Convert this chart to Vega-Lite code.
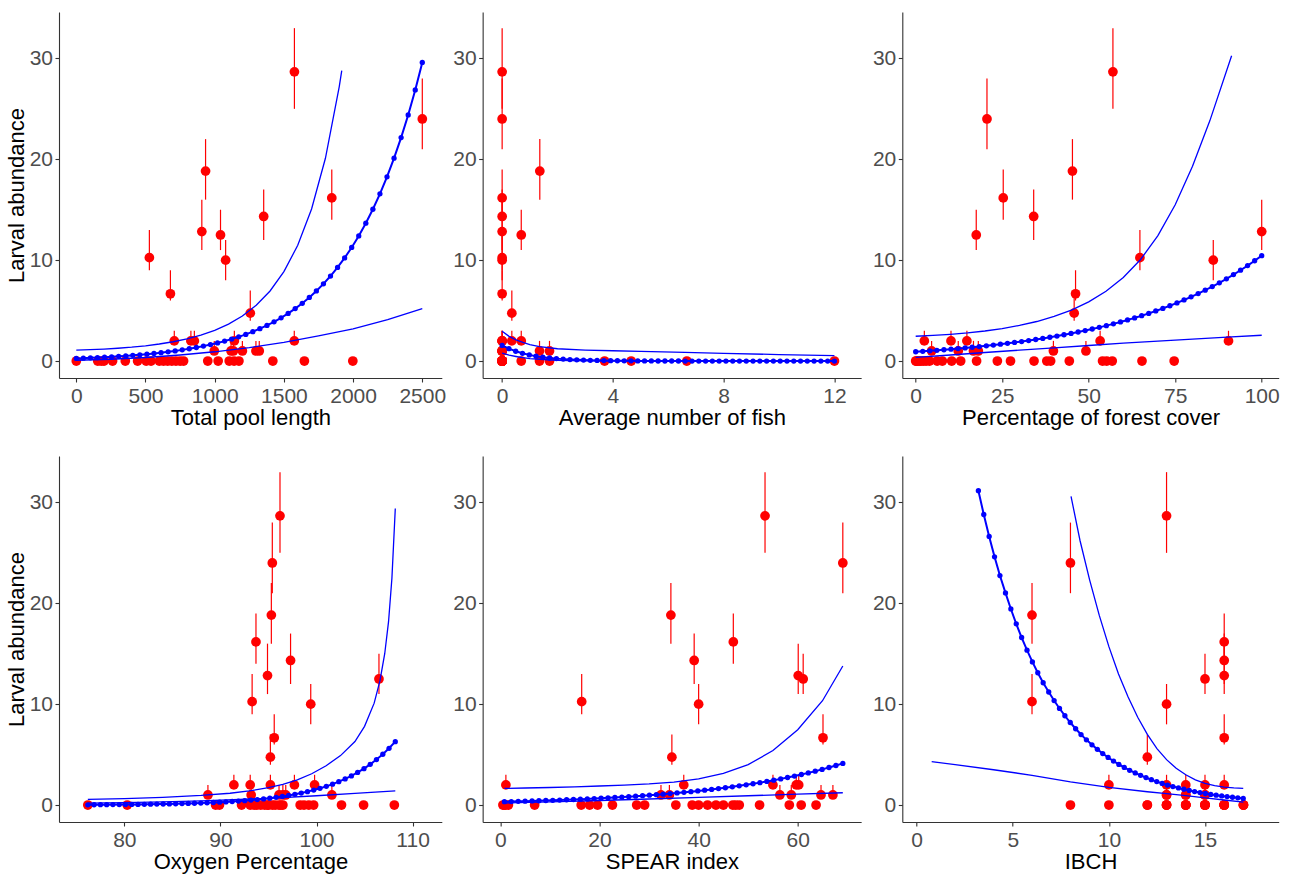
{
"$schema": "https://vega.github.io/schema/vega-lite/v6.json",
"padding": {"left": 5, "top": 12, "right": 5, "bottom": 5},
"bounds": "flush",
"columns": 3,
"spacing": {"row": 78, "column": 40.65},
"config": {
  "view": {"stroke": null},
  "font": "Liberation Sans",
  "axis": {"domainColor": "#333333", "domainWidth": 1.1, "tickColor": "#333333", "tickSize": 4, "tickWidth": 1.1,
    "labelFont": "Liberation Sans", "labelFontSize": 21, "labelColor": "#4D4D4D", "labelFlush": false, "labelOverlap": false,
    "titleFont": "Liberation Sans", "titleFontSize": 22, "titleFontWeight": "normal", "titleColor": "#000000", "grid": false},
  "axisX": {"labelPadding": 3, "titlePadding": 1},
  "axisY": {"labelPadding": 2.5, "titlePadding": 1}
},
"datasets": {
"pts": [
{"p":1,"x":1576,"y":28.67,"lo":25,"hi":33},{"p":1,"x":2500,"y":24,"lo":21,"hi":28},{"p":1,"x":934,"y":18.83,"lo":16,"hi":22},{"p":1,"x":1846,"y":16.17,"lo":14,"hi":19},{"p":1,"x":1354,"y":14.33,"lo":12,"hi":17},{"p":1,"x":907,"y":12.83,"lo":11,"hi":16},{"p":1,"x":1042,"y":12.5,"lo":11,"hi":15},{"p":1,"x":528,"y":10.25,"lo":9,"hi":13},{"p":1,"x":1079,"y":10,"lo":8,"hi":12},{"p":1,"x":680,"y":6.67,"lo":6,"hi":9},{"p":1,"x":1257,"y":4.75,"lo":4,"hi":7},
{"p":1,"x":708,"y":2,"lo":2,"hi":3},{"p":1,"x":828,"y":2,"lo":2,"hi":3},{"p":1,"x":853,"y":2,"lo":2,"hi":3},{"p":1,"x":1142,"y":2,"lo":2,"hi":3},{"p":1,"x":1575,"y":2,"lo":2,"hi":3},
{"p":1,"x":997,"y":1,"lo":1,"hi":2},{"p":1,"x":1118,"y":1,"lo":1,"hi":2},{"p":1,"x":1135,"y":1,"lo":1,"hi":2},{"p":1,"x":1200,"y":1,"lo":1,"hi":2},{"p":1,"x":1298,"y":1,"lo":1,"hi":2},{"p":1,"x":1322,"y":1,"lo":1,"hi":2},
{"p":1,"x":0,"y":0,"lo":0,"hi":0},{"p":1,"x":155,"y":0,"lo":0,"hi":0},{"p":1,"x":180,"y":0,"lo":0,"hi":0},{"p":1,"x":200,"y":0,"lo":0,"hi":0},{"p":1,"x":262,"y":0,"lo":0,"hi":0},{"p":1,"x":354,"y":0,"lo":0,"hi":0},{"p":1,"x":443,"y":0,"lo":0,"hi":0},{"p":1,"x":505,"y":0,"lo":0,"hi":0},{"p":1,"x":540,"y":0,"lo":0,"hi":0},{"p":1,"x":600,"y":0,"lo":0,"hi":0},{"p":1,"x":630,"y":0,"lo":0,"hi":0},{"p":1,"x":660,"y":0,"lo":0,"hi":0},{"p":1,"x":690,"y":0,"lo":0,"hi":0},{"p":1,"x":720,"y":0,"lo":0,"hi":0},{"p":1,"x":750,"y":0,"lo":0,"hi":0},{"p":1,"x":775,"y":0,"lo":0,"hi":0},{"p":1,"x":950,"y":0,"lo":0,"hi":0},{"p":1,"x":1025,"y":0,"lo":0,"hi":0},{"p":1,"x":1105,"y":0,"lo":0,"hi":0},{"p":1,"x":1140,"y":0,"lo":0,"hi":0},{"p":1,"x":1175,"y":0,"lo":0,"hi":0},{"p":1,"x":1420,"y":0,"lo":0,"hi":0},{"p":1,"x":1648,"y":0,"lo":0,"hi":0},{"p":1,"x":1998,"y":0,"lo":0,"hi":0},

{"p":2,"x":0,"y":28.67,"lo":25,"hi":33},{"p":2,"x":0,"y":24,"lo":21,"hi":28},{"p":2,"x":1.36,"y":18.83,"lo":16,"hi":22},{"p":2,"x":0,"y":16.17,"lo":14,"hi":19},{"p":2,"x":0,"y":14.33,"lo":12,"hi":17},{"p":2,"x":0,"y":12.83,"lo":11,"hi":16},{"p":2,"x":0.69,"y":12.5,"lo":11,"hi":15},{"p":2,"x":0,"y":10.25,"lo":9,"hi":13},{"p":2,"x":0,"y":10,"lo":8,"hi":12},{"p":2,"x":0,"y":6.67,"lo":6,"hi":9},{"p":2,"x":0.35,"y":4.75,"lo":4,"hi":7},
{"p":2,"x":0,"y":2,"lo":2,"hi":3},{"p":2,"x":0.35,"y":2,"lo":2,"hi":3},{"p":2,"x":0.69,"y":2,"lo":2,"hi":3},{"p":2,"x":0,"y":2,"lo":2,"hi":3},{"p":2,"x":0,"y":2,"lo":2,"hi":3},
{"p":2,"x":0,"y":1,"lo":1,"hi":2},{"p":2,"x":1.35,"y":1,"lo":1,"hi":2},{"p":2,"x":1.71,"y":1,"lo":1,"hi":2},{"p":2,"x":0,"y":1,"lo":1,"hi":2},{"p":2,"x":0,"y":1,"lo":1,"hi":2},{"p":2,"x":0,"y":1,"lo":1,"hi":2},
{"p":2,"x":0,"y":0,"lo":0,"hi":0},{"p":2,"x":0,"y":0,"lo":0,"hi":0},{"p":2,"x":0,"y":0,"lo":0,"hi":0},{"p":2,"x":0,"y":0,"lo":0,"hi":0},{"p":2,"x":0,"y":0,"lo":0,"hi":0},{"p":2,"x":0,"y":0,"lo":0,"hi":0},{"p":2,"x":0,"y":0,"lo":0,"hi":0},{"p":2,"x":0,"y":0,"lo":0,"hi":0},{"p":2,"x":0,"y":0,"lo":0,"hi":0},{"p":2,"x":0,"y":0,"lo":0,"hi":0},{"p":2,"x":0,"y":0,"lo":0,"hi":0},{"p":2,"x":0,"y":0,"lo":0,"hi":0},{"p":2,"x":0,"y":0,"lo":0,"hi":0},{"p":2,"x":0,"y":0,"lo":0,"hi":0},{"p":2,"x":0,"y":0,"lo":0,"hi":0},{"p":2,"x":0,"y":0,"lo":0,"hi":0},{"p":2,"x":0,"y":0,"lo":0,"hi":0},{"p":2,"x":0.69,"y":0,"lo":0,"hi":0},{"p":2,"x":1.35,"y":0,"lo":0,"hi":0},{"p":2,"x":1.71,"y":0,"lo":0,"hi":0},{"p":2,"x":3.7,"y":0,"lo":0,"hi":0},{"p":2,"x":4.66,"y":0,"lo":0,"hi":0},{"p":2,"x":6.67,"y":0,"lo":0,"hi":0},{"p":2,"x":12,"y":0,"lo":0,"hi":0},

{"p":3,"x":57.0,"y":28.67,"lo":25,"hi":33},{"p":3,"x":20.6,"y":24,"lo":21,"hi":28},{"p":3,"x":45.3,"y":18.83,"lo":16,"hi":22},{"p":3,"x":25.3,"y":16.17,"lo":14,"hi":19},{"p":3,"x":34.1,"y":14.33,"lo":12,"hi":17},{"p":3,"x":100,"y":12.83,"lo":11,"hi":16},{"p":3,"x":17.5,"y":12.5,"lo":11,"hi":15},{"p":3,"x":64.8,"y":10.25,"lo":9,"hi":13},{"p":3,"x":86.0,"y":10,"lo":8,"hi":12},{"p":3,"x":46.2,"y":6.67,"lo":6,"hi":9},{"p":3,"x":45.8,"y":4.75,"lo":4,"hi":7},
{"p":3,"x":2.5,"y":2,"lo":2,"hi":3},{"p":3,"x":10.2,"y":2,"lo":2,"hi":3},{"p":3,"x":14.8,"y":2,"lo":2,"hi":3},{"p":3,"x":53.3,"y":2,"lo":2,"hi":3},{"p":3,"x":90.4,"y":2,"lo":2,"hi":3},
{"p":3,"x":4.6,"y":1,"lo":1,"hi":2},{"p":3,"x":12.3,"y":1,"lo":1,"hi":2},{"p":3,"x":16.7,"y":1,"lo":1,"hi":2},{"p":3,"x":18.1,"y":1,"lo":1,"hi":2},{"p":3,"x":39.8,"y":1,"lo":1,"hi":2},{"p":3,"x":49.2,"y":1,"lo":1,"hi":2},
{"p":3,"x":0,"y":0,"lo":0,"hi":0},{"p":3,"x":0.5,"y":0,"lo":0,"hi":0},{"p":3,"x":1,"y":0,"lo":0,"hi":0},{"p":3,"x":1.5,"y":0,"lo":0,"hi":0},{"p":3,"x":2.2,"y":0,"lo":0,"hi":0},{"p":3,"x":3,"y":0,"lo":0,"hi":0},{"p":3,"x":4,"y":0,"lo":0,"hi":0},{"p":3,"x":6.2,"y":0,"lo":0,"hi":0},{"p":3,"x":7.7,"y":0,"lo":0,"hi":0},{"p":3,"x":10.4,"y":0,"lo":0,"hi":0},{"p":3,"x":13,"y":0,"lo":0,"hi":0},{"p":3,"x":17.6,"y":0,"lo":0,"hi":0},{"p":3,"x":23.6,"y":0,"lo":0,"hi":0},{"p":3,"x":27.4,"y":0,"lo":0,"hi":0},{"p":3,"x":34.2,"y":0,"lo":0,"hi":0},{"p":3,"x":37.9,"y":0,"lo":0,"hi":0},{"p":3,"x":39,"y":0,"lo":0,"hi":0},{"p":3,"x":44.4,"y":0,"lo":0,"hi":0},{"p":3,"x":54,"y":0,"lo":0,"hi":0},{"p":3,"x":55.2,"y":0,"lo":0,"hi":0},{"p":3,"x":56.8,"y":0,"lo":0,"hi":0},{"p":3,"x":65.4,"y":0,"lo":0,"hi":0},{"p":3,"x":74.7,"y":0,"lo":0,"hi":0},{"p":3,"x":0.2,"y":0,"lo":0,"hi":0},

{"p":4,"x":96.2,"y":28.67,"lo":25,"hi":33},{"p":4,"x":95.4,"y":24,"lo":21,"hi":28},{"p":4,"x":95.3,"y":18.83,"lo":16,"hi":22},{"p":4,"x":93.7,"y":16.17,"lo":14,"hi":19},{"p":4,"x":97.3,"y":14.33,"lo":12,"hi":17},{"p":4,"x":94.9,"y":12.83,"lo":11,"hi":16},{"p":4,"x":106.5,"y":12.5,"lo":11,"hi":15},{"p":4,"x":93.3,"y":10.25,"lo":9,"hi":13},{"p":4,"x":99.4,"y":10,"lo":8,"hi":12},{"p":4,"x":95.6,"y":6.67,"lo":6,"hi":9},{"p":4,"x":95.2,"y":4.75,"lo":4,"hi":7},
{"p":4,"x":91.4,"y":2,"lo":2,"hi":3},{"p":4,"x":93.1,"y":2,"lo":2,"hi":3},{"p":4,"x":95.2,"y":2,"lo":2,"hi":3},{"p":4,"x":97.7,"y":2,"lo":2,"hi":3},{"p":4,"x":99.8,"y":2,"lo":2,"hi":3},
{"p":4,"x":88.7,"y":1,"lo":1,"hi":2},{"p":4,"x":93.2,"y":1,"lo":1,"hi":2},{"p":4,"x":96.1,"y":1,"lo":1,"hi":2},{"p":4,"x":96.8,"y":1,"lo":1,"hi":2},{"p":4,"x":101.6,"y":1,"lo":1,"hi":2},{"p":4,"x":96.5,"y":1,"lo":1,"hi":2},
{"p":4,"x":76.2,"y":0,"lo":0,"hi":0},{"p":4,"x":80.3,"y":0,"lo":0,"hi":0},{"p":4,"x":89.5,"y":0,"lo":0,"hi":0},{"p":4,"x":89.9,"y":0,"lo":0,"hi":0},{"p":4,"x":92.2,"y":0,"lo":0,"hi":0},{"p":4,"x":93.1,"y":0,"lo":0,"hi":0},{"p":4,"x":93.5,"y":0,"lo":0,"hi":0},{"p":4,"x":93.8,"y":0,"lo":0,"hi":0},{"p":4,"x":94.2,"y":0,"lo":0,"hi":0},{"p":4,"x":94.6,"y":0,"lo":0,"hi":0},{"p":4,"x":95.0,"y":0,"lo":0,"hi":0},{"p":4,"x":95.4,"y":0,"lo":0,"hi":0},{"p":4,"x":95.7,"y":0,"lo":0,"hi":0},{"p":4,"x":96.1,"y":0,"lo":0,"hi":0},{"p":4,"x":96.5,"y":0,"lo":0,"hi":0},{"p":4,"x":98.3,"y":0,"lo":0,"hi":0},{"p":4,"x":98.7,"y":0,"lo":0,"hi":0},{"p":4,"x":99.2,"y":0,"lo":0,"hi":0},{"p":4,"x":99.7,"y":0,"lo":0,"hi":0},{"p":4,"x":102.6,"y":0,"lo":0,"hi":0},{"p":4,"x":104.9,"y":0,"lo":0,"hi":0},{"p":4,"x":108.1,"y":0,"lo":0,"hi":0},{"p":4,"x":94.9,"y":0,"lo":0,"hi":0},{"p":4,"x":96.3,"y":0,"lo":0,"hi":0},

{"p":5,"x":53.4,"y":28.67,"lo":25,"hi":33},{"p":5,"x":69.1,"y":24,"lo":21,"hi":28},{"p":5,"x":34.4,"y":18.83,"lo":16,"hi":22},{"p":5,"x":47.0,"y":16.17,"lo":14,"hi":19},{"p":5,"x":39.1,"y":14.33,"lo":12,"hi":17},{"p":5,"x":60.1,"y":12.83,"lo":11,"hi":16},{"p":5,"x":61.1,"y":12.5,"lo":11,"hi":15},{"p":5,"x":16.4,"y":10.25,"lo":9,"hi":13},{"p":5,"x":40.0,"y":10,"lo":8,"hi":12},{"p":5,"x":65.1,"y":6.67,"lo":6,"hi":9},{"p":5,"x":34.6,"y":4.75,"lo":4,"hi":7},
{"p":5,"x":1.1,"y":2,"lo":2,"hi":3},{"p":5,"x":37.0,"y":2,"lo":2,"hi":3},{"p":5,"x":55.0,"y":2,"lo":2,"hi":3},{"p":5,"x":59.7,"y":2,"lo":2,"hi":3},{"p":5,"x":60.2,"y":2,"lo":2,"hi":3},
{"p":5,"x":32.4,"y":1,"lo":1,"hi":2},{"p":5,"x":34.1,"y":1,"lo":1,"hi":2},{"p":5,"x":56.4,"y":1,"lo":1,"hi":2},{"p":5,"x":58.7,"y":1,"lo":1,"hi":2},{"p":5,"x":64.7,"y":1,"lo":1,"hi":2},{"p":5,"x":67.1,"y":1,"lo":1,"hi":2},
{"p":5,"x":0.5,"y":0,"lo":0,"hi":0},{"p":5,"x":1.0,"y":0,"lo":0,"hi":0},{"p":5,"x":1.6,"y":0,"lo":0,"hi":0},{"p":5,"x":6.9,"y":0,"lo":0,"hi":0},{"p":5,"x":16.3,"y":0,"lo":0,"hi":0},{"p":5,"x":18.0,"y":0,"lo":0,"hi":0},{"p":5,"x":19.6,"y":0,"lo":0,"hi":0},{"p":5,"x":22.6,"y":0,"lo":0,"hi":0},{"p":5,"x":27.5,"y":0,"lo":0,"hi":0},{"p":5,"x":29.1,"y":0,"lo":0,"hi":0},{"p":5,"x":35.4,"y":0,"lo":0,"hi":0},{"p":5,"x":38.7,"y":0,"lo":0,"hi":0},{"p":5,"x":40.0,"y":0,"lo":0,"hi":0},{"p":5,"x":41.8,"y":0,"lo":0,"hi":0},{"p":5,"x":43.5,"y":0,"lo":0,"hi":0},{"p":5,"x":45.0,"y":0,"lo":0,"hi":0},{"p":5,"x":46.9,"y":0,"lo":0,"hi":0},{"p":5,"x":47.5,"y":0,"lo":0,"hi":0},{"p":5,"x":48.2,"y":0,"lo":0,"hi":0},{"p":5,"x":52.3,"y":0,"lo":0,"hi":0},{"p":5,"x":58.3,"y":0,"lo":0,"hi":0},{"p":5,"x":60.7,"y":0,"lo":0,"hi":0},{"p":5,"x":63.7,"y":0,"lo":0,"hi":0},{"p":5,"x":0.8,"y":0,"lo":0,"hi":0},

{"p":6,"x":13,"y":28.67,"lo":25,"hi":33},{"p":6,"x":8,"y":24,"lo":21,"hi":28},{"p":6,"x":6,"y":18.83,"lo":16,"hi":22},{"p":6,"x":16,"y":16.17,"lo":14,"hi":19},{"p":6,"x":16,"y":14.33,"lo":12,"hi":17},{"p":6,"x":16,"y":12.83,"lo":11,"hi":16},{"p":6,"x":15,"y":12.5,"lo":11,"hi":15},{"p":6,"x":6,"y":10.25,"lo":9,"hi":13},{"p":6,"x":13,"y":10,"lo":8,"hi":12},{"p":6,"x":16,"y":6.67,"lo":6,"hi":9},{"p":6,"x":12,"y":4.75,"lo":4,"hi":7},
{"p":6,"x":10,"y":2,"lo":2,"hi":3},{"p":6,"x":13,"y":2,"lo":2,"hi":3},{"p":6,"x":14,"y":2,"lo":2,"hi":3},{"p":6,"x":15,"y":2,"lo":2,"hi":3},{"p":6,"x":16,"y":2,"lo":2,"hi":3},
{"p":6,"x":13,"y":1,"lo":1,"hi":2},{"p":6,"x":14,"y":1,"lo":1,"hi":2},{"p":6,"x":15,"y":1,"lo":1,"hi":2},{"p":6,"x":13,"y":1,"lo":1,"hi":2},{"p":6,"x":14,"y":1,"lo":1,"hi":2},{"p":6,"x":15,"y":1,"lo":1,"hi":2},
{"p":6,"x":8,"y":0,"lo":0,"hi":0},{"p":6,"x":10,"y":0,"lo":0,"hi":0},{"p":6,"x":12,"y":0,"lo":0,"hi":0},{"p":6,"x":13,"y":0,"lo":0,"hi":0},{"p":6,"x":13,"y":0,"lo":0,"hi":0},{"p":6,"x":13,"y":0,"lo":0,"hi":0},{"p":6,"x":14,"y":0,"lo":0,"hi":0},{"p":6,"x":14,"y":0,"lo":0,"hi":0},{"p":6,"x":14,"y":0,"lo":0,"hi":0},{"p":6,"x":15,"y":0,"lo":0,"hi":0},{"p":6,"x":15,"y":0,"lo":0,"hi":0},{"p":6,"x":15,"y":0,"lo":0,"hi":0},{"p":6,"x":15,"y":0,"lo":0,"hi":0},{"p":6,"x":16,"y":0,"lo":0,"hi":0},{"p":6,"x":16,"y":0,"lo":0,"hi":0},{"p":6,"x":16,"y":0,"lo":0,"hi":0},{"p":6,"x":16,"y":0,"lo":0,"hi":0},{"p":6,"x":17,"y":0,"lo":0,"hi":0},{"p":6,"x":17,"y":0,"lo":0,"hi":0},{"p":6,"x":17,"y":0,"lo":0,"hi":0},{"p":6,"x":14,"y":0,"lo":0,"hi":0},{"p":6,"x":15,"y":0,"lo":0,"hi":0},{"p":6,"x":16,"y":0,"lo":0,"hi":0},{"p":6,"x":12,"y":0,"lo":0,"hi":0}
],
"fit": [
{"p":1,"x":0,"y":0.26},{"p":1,"x":51.0,"y":0.286},{"p":1,"x":102.0,"y":0.315},{"p":1,"x":153.1,"y":0.347},{"p":1,"x":204.1,"y":0.383},{"p":1,"x":255.1,"y":0.422},{"p":1,"x":306.1,"y":0.464},{"p":1,"x":357.1,"y":0.511},{"p":1,"x":408.2,"y":0.563},{"p":1,"x":459.2,"y":0.620},{"p":1,"x":510.2,"y":0.683},{"p":1,"x":561.2,"y":0.753},{"p":1,"x":612.2,"y":0.829},{"p":1,"x":663.3,"y":0.913},{"p":1,"x":714.3,"y":1.006},{"p":1,"x":765.3,"y":1.108},{"p":1,"x":816.3,"y":1.220},{"p":1,"x":867.3,"y":1.344},{"p":1,"x":918.4,"y":1.480},{"p":1,"x":969.4,"y":1.631},{"p":1,"x":1020.4,"y":1.796},{"p":1,"x":1071.4,"y":1.978},{"p":1,"x":1122.4,"y":2.179},{"p":1,"x":1173.5,"y":2.400},{"p":1,"x":1224.5,"y":2.643},{"p":1,"x":1275.5,"y":2.912},{"p":1,"x":1326.5,"y":3.207},{"p":1,"x":1377.6,"y":3.532},{"p":1,"x":1428.6,"y":3.891},{"p":1,"x":1479.6,"y":4.285},{"p":1,"x":1530.6,"y":4.720},{"p":1,"x":1581.6,"y":5.199},{"p":1,"x":1632.7,"y":5.726},{"p":1,"x":1683.7,"y":6.307},{"p":1,"x":1734.7,"y":6.947},{"p":1,"x":1785.7,"y":7.652},{"p":1,"x":1836.7,"y":8.428},{"p":1,"x":1887.8,"y":9.283},{"p":1,"x":1938.8,"y":10.225},{"p":1,"x":1989.8,"y":11.262},{"p":1,"x":2040.8,"y":12.405},{"p":1,"x":2091.8,"y":13.663},{"p":1,"x":2142.9,"y":15.049},{"p":1,"x":2193.9,"y":16.576},{"p":1,"x":2244.9,"y":18.258},{"p":1,"x":2295.9,"y":20.110},{"p":1,"x":2346.9,"y":22.150},{"p":1,"x":2398.0,"y":24.397},{"p":1,"x":2449.0,"y":26.872},{"p":1,"x":2500,"y":29.598},

{"p":2,"x":0,"y":1.55},{"p":2,"x":0.245,"y":1.228},{"p":2,"x":0.490,"y":0.973},{"p":2,"x":0.735,"y":0.771},{"p":2,"x":0.980,"y":0.611},{"p":2,"x":1.224,"y":0.484},{"p":2,"x":1.469,"y":0.384},{"p":2,"x":1.714,"y":0.304},{"p":2,"x":1.959,"y":0.241},{"p":2,"x":2.204,"y":0.191},{"p":2,"x":2.449,"y":0.151},{"p":2,"x":2.694,"y":0.120},{"p":2,"x":2.939,"y":0.095},{"p":2,"x":3.184,"y":0.075},{"p":2,"x":3.429,"y":0.060},{"p":2,"x":3.673,"y":0.047},{"p":2,"x":3.918,"y":0.037},{"p":2,"x":4.163,"y":0.030},{"p":2,"x":4.408,"y":0.023},{"p":2,"x":4.653,"y":0.019},{"p":2,"x":4.898,"y":0.015},{"p":2,"x":5.143,"y":0.012},{"p":2,"x":5.388,"y":0.009},{"p":2,"x":5.633,"y":0.007},{"p":2,"x":5.878,"y":0.006},{"p":2,"x":6.122,"y":0.005},{"p":2,"x":6.367,"y":0.004},{"p":2,"x":6.612,"y":0.003},{"p":2,"x":6.857,"y":0.002},{"p":2,"x":7.102,"y":0.002},{"p":2,"x":7.347,"y":0.001},{"p":2,"x":7.592,"y":0.001},{"p":2,"x":7.837,"y":0.001},{"p":2,"x":8.082,"y":0.001},{"p":2,"x":8.327,"y":0.001},{"p":2,"x":8.571,"y":0},{"p":2,"x":8.816,"y":0},{"p":2,"x":9.061,"y":0},{"p":2,"x":9.306,"y":0},{"p":2,"x":9.551,"y":0},{"p":2,"x":9.796,"y":0},{"p":2,"x":10.041,"y":0},{"p":2,"x":10.286,"y":0},{"p":2,"x":10.531,"y":0},{"p":2,"x":10.776,"y":0},{"p":2,"x":11.020,"y":0},{"p":2,"x":11.265,"y":0},{"p":2,"x":11.510,"y":0},{"p":2,"x":11.755,"y":0},{"p":2,"x":12,"y":0},

{"p":3,"x":0,"y":0.920},{"p":3,"x":2.04,"y":0.967},{"p":3,"x":4.08,"y":1.016},{"p":3,"x":6.12,"y":1.068},{"p":3,"x":8.16,"y":1.122},{"p":3,"x":10.20,"y":1.179},{"p":3,"x":12.24,"y":1.239},{"p":3,"x":14.29,"y":1.302},{"p":3,"x":16.33,"y":1.368},{"p":3,"x":18.37,"y":1.437},{"p":3,"x":20.41,"y":1.510},{"p":3,"x":22.45,"y":1.587},{"p":3,"x":24.49,"y":1.668},{"p":3,"x":26.53,"y":1.753},{"p":3,"x":28.57,"y":1.842},{"p":3,"x":30.61,"y":1.935},{"p":3,"x":32.65,"y":2.034},{"p":3,"x":34.69,"y":2.137},{"p":3,"x":36.73,"y":2.246},{"p":3,"x":38.78,"y":2.360},{"p":3,"x":40.82,"y":2.480},{"p":3,"x":42.86,"y":2.606},{"p":3,"x":44.90,"y":2.739},{"p":3,"x":46.94,"y":2.878},{"p":3,"x":48.98,"y":3.024},{"p":3,"x":51.02,"y":3.178},{"p":3,"x":53.06,"y":3.340},{"p":3,"x":55.10,"y":3.509},{"p":3,"x":57.14,"y":3.688},{"p":3,"x":59.18,"y":3.875},{"p":3,"x":61.22,"y":4.072},{"p":3,"x":63.27,"y":4.279},{"p":3,"x":65.31,"y":4.497},{"p":3,"x":67.35,"y":4.725},{"p":3,"x":69.39,"y":4.966},{"p":3,"x":71.43,"y":5.218},{"p":3,"x":73.47,"y":5.483},{"p":3,"x":75.51,"y":5.762},{"p":3,"x":77.55,"y":6.055},{"p":3,"x":79.59,"y":6.363},{"p":3,"x":81.63,"y":6.686},{"p":3,"x":83.67,"y":7.026},{"p":3,"x":85.71,"y":7.383},{"p":3,"x":87.76,"y":7.759},{"p":3,"x":89.80,"y":8.153},{"p":3,"x":91.84,"y":8.568},{"p":3,"x":93.88,"y":9.003},{"p":3,"x":95.92,"y":9.461},{"p":3,"x":97.96,"y":9.942},{"p":3,"x":100,"y":10.448},

{"p":4,"x":76.20,"y":0.027},{"p":4,"x":76.85,"y":0.031},{"p":4,"x":77.51,"y":0.034},{"p":4,"x":78.16,"y":0.038},{"p":4,"x":78.81,"y":0.043},{"p":4,"x":79.47,"y":0.048},{"p":4,"x":80.12,"y":0.053},{"p":4,"x":80.77,"y":0.059},{"p":4,"x":81.42,"y":0.066},{"p":4,"x":82.08,"y":0.074},{"p":4,"x":82.73,"y":0.083},{"p":4,"x":83.38,"y":0.093},{"p":4,"x":84.04,"y":0.103},{"p":4,"x":84.69,"y":0.116},{"p":4,"x":85.34,"y":0.129},{"p":4,"x":86.00,"y":0.144},{"p":4,"x":86.65,"y":0.161},{"p":4,"x":87.30,"y":0.180},{"p":4,"x":87.96,"y":0.201},{"p":4,"x":88.61,"y":0.225},{"p":4,"x":89.26,"y":0.251},{"p":4,"x":89.92,"y":0.281},{"p":4,"x":90.57,"y":0.314},{"p":4,"x":91.22,"y":0.351},{"p":4,"x":91.87,"y":0.392},{"p":4,"x":92.53,"y":0.438},{"p":4,"x":93.18,"y":0.489},{"p":4,"x":93.83,"y":0.547},{"p":4,"x":94.49,"y":0.611},{"p":4,"x":95.14,"y":0.683},{"p":4,"x":95.79,"y":0.763},{"p":4,"x":96.45,"y":0.852},{"p":4,"x":97.10,"y":0.952},{"p":4,"x":97.75,"y":1.064},{"p":4,"x":98.41,"y":1.189},{"p":4,"x":99.06,"y":1.329},{"p":4,"x":99.71,"y":1.485},{"p":4,"x":100.36,"y":1.659},{"p":4,"x":101.02,"y":1.854},{"p":4,"x":101.67,"y":2.072},{"p":4,"x":102.32,"y":2.315},{"p":4,"x":102.98,"y":2.587},{"p":4,"x":103.63,"y":2.890},{"p":4,"x":104.28,"y":3.230},{"p":4,"x":104.94,"y":3.609},{"p":4,"x":105.59,"y":4.033},{"p":4,"x":106.24,"y":4.506},{"p":4,"x":106.90,"y":5.035},{"p":4,"x":107.55,"y":5.626},{"p":4,"x":108.20,"y":6.287},

{"p":5,"x":0.80,"y":0.330},{"p":5,"x":2.19,"y":0.347},{"p":5,"x":3.59,"y":0.366},{"p":5,"x":4.98,"y":0.385},{"p":5,"x":6.38,"y":0.406},{"p":5,"x":7.77,"y":0.427},{"p":5,"x":9.16,"y":0.450},{"p":5,"x":10.56,"y":0.473},{"p":5,"x":11.95,"y":0.498},{"p":5,"x":13.35,"y":0.525},{"p":5,"x":14.74,"y":0.552},{"p":5,"x":16.13,"y":0.582},{"p":5,"x":17.53,"y":0.612},{"p":5,"x":18.92,"y":0.645},{"p":5,"x":20.31,"y":0.679},{"p":5,"x":21.71,"y":0.715},{"p":5,"x":23.10,"y":0.753},{"p":5,"x":24.50,"y":0.792},{"p":5,"x":25.89,"y":0.834},{"p":5,"x":27.28,"y":0.878},{"p":5,"x":28.68,"y":0.925},{"p":5,"x":30.07,"y":0.974},{"p":5,"x":31.47,"y":1.025},{"p":5,"x":32.86,"y":1.080},{"p":5,"x":34.25,"y":1.137},{"p":5,"x":35.65,"y":1.197},{"p":5,"x":37.04,"y":1.260},{"p":5,"x":38.44,"y":1.327},{"p":5,"x":39.83,"y":1.397},{"p":5,"x":41.22,"y":1.471},{"p":5,"x":42.62,"y":1.549},{"p":5,"x":44.01,"y":1.631},{"p":5,"x":45.40,"y":1.717},{"p":5,"x":46.80,"y":1.808},{"p":5,"x":48.19,"y":1.904},{"p":5,"x":49.59,"y":2.005},{"p":5,"x":50.98,"y":2.111},{"p":5,"x":52.37,"y":2.222},{"p":5,"x":53.77,"y":2.340},{"p":5,"x":55.16,"y":2.464},{"p":5,"x":56.56,"y":2.594},{"p":5,"x":57.95,"y":2.732},{"p":5,"x":59.34,"y":2.876},{"p":5,"x":60.74,"y":3.029},{"p":5,"x":62.13,"y":3.189},{"p":5,"x":63.53,"y":3.358},{"p":5,"x":64.92,"y":3.535},{"p":5,"x":66.31,"y":3.722},{"p":5,"x":67.71,"y":3.919},{"p":5,"x":69.10,"y":4.127},

{"p":6,"x":3.21,"y":31.16},{"p":6,"x":3.49,"y":28.803},{"p":6,"x":3.77,"y":26.624},{"p":6,"x":4.05,"y":24.610},{"p":6,"x":4.33,"y":22.748},{"p":6,"x":4.62,"y":21.027},{"p":6,"x":4.90,"y":19.436},{"p":6,"x":5.18,"y":17.966},{"p":6,"x":5.46,"y":16.607},{"p":6,"x":5.74,"y":15.351},{"p":6,"x":6.02,"y":14.190},{"p":6,"x":6.30,"y":13.116},{"p":6,"x":6.58,"y":12.124},{"p":6,"x":6.87,"y":11.207},{"p":6,"x":7.15,"y":10.359},{"p":6,"x":7.43,"y":9.575},{"p":6,"x":7.71,"y":8.851},{"p":6,"x":7.99,"y":8.181},{"p":6,"x":8.27,"y":7.562},{"p":6,"x":8.55,"y":6.990},{"p":6,"x":8.83,"y":6.461},{"p":6,"x":9.12,"y":5.972},{"p":6,"x":9.40,"y":5.521},{"p":6,"x":9.68,"y":5.103},{"p":6,"x":9.96,"y":4.717},{"p":6,"x":10.24,"y":4.360},{"p":6,"x":10.52,"y":4.030},{"p":6,"x":10.80,"y":3.725},{"p":6,"x":11.08,"y":3.443},{"p":6,"x":11.37,"y":3.183},{"p":6,"x":11.65,"y":2.942},{"p":6,"x":11.93,"y":2.720},{"p":6,"x":12.21,"y":2.514},{"p":6,"x":12.49,"y":2.324},{"p":6,"x":12.77,"y":2.148},{"p":6,"x":13.05,"y":1.985},{"p":6,"x":13.33,"y":1.835},{"p":6,"x":13.62,"y":1.696},{"p":6,"x":13.90,"y":1.568},{"p":6,"x":14.18,"y":1.449},{"p":6,"x":14.46,"y":1.340},{"p":6,"x":14.74,"y":1.238},{"p":6,"x":15.02,"y":1.145},{"p":6,"x":15.30,"y":1.058},{"p":6,"x":15.58,"y":0.978},{"p":6,"x":15.87,"y":0.904},{"p":6,"x":16.15,"y":0.836},{"p":6,"x":16.43,"y":0.772},{"p":6,"x":16.71,"y":0.714},{"p":6,"x":16.99,"y":0.660}
],
"ci": [
{"p":1,"s":"u","x":0,"y":1.09},{"p":1,"s":"u","x":100,"y":1.13},{"p":1,"s":"u","x":200,"y":1.189},{"p":1,"s":"u","x":300,"y":1.269},{"p":1,"s":"u","x":400,"y":1.375},{"p":1,"s":"u","x":500,"y":1.513},{"p":1,"s":"u","x":600,"y":1.689},{"p":1,"s":"u","x":700,"y":1.914},{"p":1,"s":"u","x":800,"y":2.2},{"p":1,"s":"u","x":900,"y":2.568},{"p":1,"s":"u","x":1000,"y":3.042},{"p":1,"s":"u","x":1100,"y":3.657},{"p":1,"s":"u","x":1200,"y":4.463},{"p":1,"s":"u","x":1300,"y":5.527},{"p":1,"s":"u","x":1400,"y":6.946},{"p":1,"s":"u","x":1500,"y":8.861},{"p":1,"s":"u","x":1600,"y":11.47},{"p":1,"s":"u","x":1700,"y":15.07},{"p":1,"s":"u","x":1800,"y":20.1},{"p":1,"s":"u","x":1900,"y":27.21},{"p":1,"s":"u","x":1918,"y":28.78},
{"p":1,"s":"l","x":0,"y":0.08},{"p":1,"s":"l","x":250,"y":0.18},{"p":1,"s":"l","x":500,"y":0.35},{"p":1,"s":"l","x":750,"y":0.6},{"p":1,"s":"l","x":1000,"y":0.92},{"p":1,"s":"l","x":1250,"y":1.33},{"p":1,"s":"l","x":1500,"y":1.85},{"p":1,"s":"l","x":1750,"y":2.5},{"p":1,"s":"l","x":2000,"y":3.2},{"p":1,"s":"l","x":2250,"y":4.1},{"p":1,"s":"l","x":2500,"y":5.2},
{"p":2,"s":"u","x":0,"y":2.95},{"p":2,"s":"u","x":0.25,"y":2.45},{"p":2,"s":"u","x":0.5,"y":2.1},{"p":2,"s":"u","x":0.75,"y":1.85},{"p":2,"s":"u","x":1,"y":1.62},{"p":2,"s":"u","x":1.35,"y":1.42},{"p":2,"s":"u","x":2,"y":1.22},{"p":2,"s":"u","x":3,"y":1.09},{"p":2,"s":"u","x":4,"y":1.02},{"p":2,"s":"u","x":5,"y":0.96},{"p":2,"s":"u","x":6.6,"y":0.86},{"p":2,"s":"u","x":8,"y":0.76},{"p":2,"s":"u","x":10,"y":0.64},{"p":2,"s":"u","x":12,"y":0.53},
{"p":2,"s":"l","x":0,"y":0.78},{"p":2,"s":"l","x":0.25,"y":0.58},{"p":2,"s":"l","x":0.5,"y":0.45},{"p":2,"s":"l","x":0.75,"y":0.33},{"p":2,"s":"l","x":1,"y":0.25},{"p":2,"s":"l","x":1.35,"y":0.18},{"p":2,"s":"l","x":2,"y":0.08},{"p":2,"s":"l","x":3,"y":0.03},{"p":2,"s":"l","x":4,"y":0.01},{"p":2,"s":"l","x":6,"y":0},{"p":2,"s":"l","x":12,"y":0},
{"p":3,"s":"u","x":0,"y":2.46},{"p":3,"s":"u","x":5,"y":2.54},{"p":3,"s":"u","x":10,"y":2.65},{"p":3,"s":"u","x":15,"y":2.79},{"p":3,"s":"u","x":20,"y":2.98},{"p":3,"s":"u","x":25,"y":3.22},{"p":3,"s":"u","x":30,"y":3.53},{"p":3,"s":"u","x":35,"y":3.92},{"p":3,"s":"u","x":40,"y":4.42},{"p":3,"s":"u","x":45,"y":5.05},{"p":3,"s":"u","x":50,"y":5.87},{"p":3,"s":"u","x":55,"y":6.92},{"p":3,"s":"u","x":60,"y":8.29},{"p":3,"s":"u","x":65,"y":10.07},{"p":3,"s":"u","x":70,"y":12.43},{"p":3,"s":"u","x":75,"y":15.49},{"p":3,"s":"u","x":80,"y":19.3},{"p":3,"s":"u","x":85,"y":23.81},{"p":3,"s":"u","x":91.3,"y":30.27},
{"p":3,"s":"l","x":0,"y":0.37},{"p":3,"s":"l","x":10,"y":0.6},{"p":3,"s":"l","x":20,"y":0.85},{"p":3,"s":"l","x":30,"y":1.08},{"p":3,"s":"l","x":40,"y":1.3},{"p":3,"s":"l","x":50,"y":1.54},{"p":3,"s":"l","x":60,"y":1.77},{"p":3,"s":"l","x":70,"y":1.98},{"p":3,"s":"l","x":80,"y":2.18},{"p":3,"s":"l","x":90,"y":2.38},{"p":3,"s":"l","x":100,"y":2.56},
{"p":4,"s":"u","x":76.2,"y":0.57},{"p":4,"s":"u","x":80,"y":0.64},{"p":4,"s":"u","x":84,"y":0.76},{"p":4,"s":"u","x":88,"y":0.95},{"p":4,"s":"u","x":91,"y":1.17},{"p":4,"s":"u","x":93,"y":1.4},{"p":4,"s":"u","x":95,"y":1.72},{"p":4,"s":"u","x":96.5,"y":2.05},{"p":4,"s":"u","x":98,"y":2.5},{"p":4,"s":"u","x":99.5,"y":3.1},{"p":4,"s":"u","x":101,"y":3.9},{"p":4,"s":"u","x":102.5,"y":4.9},{"p":4,"s":"u","x":104,"y":6.3},{"p":4,"s":"u","x":105,"y":7.8},{"p":4,"s":"u","x":106,"y":10.1},{"p":4,"s":"u","x":106.6,"y":12.3},{"p":4,"s":"u","x":107.1,"y":15.0},{"p":4,"s":"u","x":107.5,"y":18.2},{"p":4,"s":"u","x":107.85,"y":22.5},{"p":4,"s":"u","x":108.2,"y":29.4},
{"p":4,"s":"l","x":76.2,"y":0.2},{"p":4,"s":"l","x":80,"y":0.25},{"p":4,"s":"l","x":84,"y":0.32},{"p":4,"s":"l","x":88,"y":0.42},{"p":4,"s":"l","x":92,"y":0.55},{"p":4,"s":"l","x":96,"y":0.72},{"p":4,"s":"l","x":100,"y":0.92},{"p":4,"s":"l","x":104,"y":1.15},{"p":4,"s":"l","x":108.2,"y":1.4},
{"p":5,"s":"u","x":0.8,"y":1.65},{"p":5,"s":"u","x":5,"y":1.69},{"p":5,"s":"u","x":10,"y":1.74},{"p":5,"s":"u","x":15,"y":1.81},{"p":5,"s":"u","x":20,"y":1.89},{"p":5,"s":"u","x":25,"y":1.98},{"p":5,"s":"u","x":30,"y":2.09},{"p":5,"s":"u","x":35,"y":2.27},{"p":5,"s":"u","x":40,"y":2.6},{"p":5,"s":"u","x":45,"y":3.14},{"p":5,"s":"u","x":50,"y":4.01},{"p":5,"s":"u","x":55,"y":5.4},{"p":5,"s":"u","x":60,"y":7.47},{"p":5,"s":"u","x":65,"y":10.34},{"p":5,"s":"u","x":69.1,"y":13.78},
{"p":5,"s":"l","x":0.8,"y":0.2},{"p":5,"s":"l","x":10,"y":0.32},{"p":5,"s":"l","x":20,"y":0.45},{"p":5,"s":"l","x":30,"y":0.6},{"p":5,"s":"l","x":40,"y":0.76},{"p":5,"s":"l","x":50,"y":0.92},{"p":5,"s":"l","x":60,"y":1.08},{"p":5,"s":"l","x":69.1,"y":1.22},
{"p":6,"s":"u","x":8.03,"y":30.6},{"p":6,"s":"u","x":8.5,"y":26.2},{"p":6,"s":"u","x":9,"y":22.3},{"p":6,"s":"u","x":9.5,"y":18.8},{"p":6,"s":"u","x":10,"y":15.7},{"p":6,"s":"u","x":10.5,"y":13.0},{"p":6,"s":"u","x":11,"y":10.7},{"p":6,"s":"u","x":11.5,"y":8.7},{"p":6,"s":"u","x":12,"y":7.0},{"p":6,"s":"u","x":12.5,"y":5.6},{"p":6,"s":"u","x":13,"y":4.5},{"p":6,"s":"u","x":13.5,"y":3.65},{"p":6,"s":"u","x":14,"y":3.0},{"p":6,"s":"u","x":14.5,"y":2.5},{"p":6,"s":"u","x":15,"y":2.15},{"p":6,"s":"u","x":15.5,"y":1.92},{"p":6,"s":"u","x":16,"y":1.78},{"p":6,"s":"u","x":16.5,"y":1.7},{"p":6,"s":"u","x":16.99,"y":1.65},
{"p":6,"s":"l","x":0.78,"y":4.3},{"p":6,"s":"l","x":2,"y":4.0},{"p":6,"s":"l","x":4,"y":3.5},{"p":6,"s":"l","x":6,"y":2.95},{"p":6,"s":"l","x":8,"y":2.3},{"p":6,"s":"l","x":10,"y":1.75},{"p":6,"s":"l","x":12,"y":1.32},{"p":6,"s":"l","x":13,"y":1.13},{"p":6,"s":"l","x":14,"y":0.93},{"p":6,"s":"l","x":15,"y":0.72},{"p":6,"s":"l","x":16,"y":0.5},{"p":6,"s":"l","x":17,"y":0.3}
]
},
"concat": [
{"width": 382.8, "height": 366,
 "encoding": {"x": {"field": "x", "type": "quantitative", "scale": {"domain": [-125, 2640.9], "nice": false, "zero": false}, "axis": {"values": [0,500,1000,1500,2000,2500], "format": "d", "title": "Total pool length"}},
   "y": {"field": "y", "type": "quantitative", "scale": {"domain": [-1.68, 34.6], "nice": false, "zero": false}, "axis": {"values": [0,10,20,30], "title": "Larval abundance"}}},
 "layer": [
  {"data": {"name": "pts"}, "transform": [{"filter": "datum.p == 1"}], "mark": {"type": "rule", "color": "#FF0000", "strokeWidth": 1.2}, "encoding": {"y": {"field": "lo", "type": "quantitative"}, "y2": {"field": "hi"}}},
  {"data": {"name": "pts"}, "transform": [{"filter": "datum.p == 1"}], "mark": {"type": "circle", "color": "#FF0000", "size": 95, "opacity": 1}},
  {"data": {"name": "ci"}, "transform": [{"filter": "datum.p == 1"}], "mark": {"type": "line", "color": "#0000FF", "strokeWidth": 1.3}, "encoding": {"detail": {"field": "s"}}},
  {"data": {"name": "fit"}, "transform": [{"filter": "datum.p == 1"}], "mark": {"type": "line", "color": "#0000FF", "strokeWidth": 2}, "encoding": {}},
  {"data": {"name": "fit"}, "transform": [{"filter": "datum.p == 1"}], "mark": {"type": "circle", "color": "#0000FF", "size": 28, "opacity": 1}}
 ]},
{"width": 378.5, "height": 366,
 "encoding": {"x": {"field": "x", "type": "quantitative", "scale": {"domain": [-0.704, 12.965], "nice": false, "zero": false}, "axis": {"values": [0,4,8,12], "title": "Average number of fish"}},
   "y": {"field": "y", "type": "quantitative", "scale": {"domain": [-1.68, 34.6], "nice": false, "zero": false}, "axis": {"values": [0,10,20,30], "title": null}}},
 "layer": [
  {"data": {"name": "pts"}, "transform": [{"filter": "datum.p == 2"}], "mark": {"type": "rule", "color": "#FF0000", "strokeWidth": 1.2}, "encoding": {"y": {"field": "lo", "type": "quantitative"}, "y2": {"field": "hi"}}},
  {"data": {"name": "pts"}, "transform": [{"filter": "datum.p == 2"}], "mark": {"type": "circle", "color": "#FF0000", "size": 95, "opacity": 1}},
  {"data": {"name": "ci"}, "transform": [{"filter": "datum.p == 2"}], "mark": {"type": "line", "color": "#0000FF", "strokeWidth": 1.3}, "encoding": {"detail": {"field": "s"}}},
  {"data": {"name": "fit"}, "transform": [{"filter": "datum.p == 2"}], "mark": {"type": "line", "color": "#0000FF", "strokeWidth": 2}, "encoding": {}},
  {"data": {"name": "fit"}, "transform": [{"filter": "datum.p == 2"}], "mark": {"type": "circle", "color": "#0000FF", "size": 28, "opacity": 1}}
 ]},
{"width": 376.4, "height": 366,
 "encoding": {"x": {"field": "x", "type": "quantitative", "scale": {"domain": [-3.87, 104.91], "nice": false, "zero": false}, "axis": {"values": [0,25,50,75,100], "title": "Percentage of forest cover"}},
   "y": {"field": "y", "type": "quantitative", "scale": {"domain": [-1.68, 34.6], "nice": false, "zero": false}, "axis": {"values": [0,10,20,30], "title": null}}},
 "layer": [
  {"data": {"name": "pts"}, "transform": [{"filter": "datum.p == 3"}], "mark": {"type": "rule", "color": "#FF0000", "strokeWidth": 1.2}, "encoding": {"y": {"field": "lo", "type": "quantitative"}, "y2": {"field": "hi"}}},
  {"data": {"name": "pts"}, "transform": [{"filter": "datum.p == 3"}], "mark": {"type": "circle", "color": "#FF0000", "size": 95, "opacity": 1}},
  {"data": {"name": "ci"}, "transform": [{"filter": "datum.p == 3"}], "mark": {"type": "line", "color": "#0000FF", "strokeWidth": 1.3}, "encoding": {"detail": {"field": "s"}}},
  {"data": {"name": "fit"}, "transform": [{"filter": "datum.p == 3"}], "mark": {"type": "line", "color": "#0000FF", "strokeWidth": 2}, "encoding": {}},
  {"data": {"name": "fit"}, "transform": [{"filter": "datum.p == 3"}], "mark": {"type": "circle", "color": "#0000FF", "size": 28, "opacity": 1}}
 ]},
{"width": 382.8, "height": 366,
 "encoding": {"x": {"field": "x", "type": "quantitative", "scale": {"domain": [73.2, 113.04], "nice": false, "zero": false}, "axis": {"values": [80,90,100,110], "title": "Oxygen Percentage"}},
   "y": {"field": "y", "type": "quantitative", "scale": {"domain": [-1.68, 34.6], "nice": false, "zero": false}, "axis": {"values": [0,10,20,30], "title": "Larval abundance"}}},
 "layer": [
  {"data": {"name": "pts"}, "transform": [{"filter": "datum.p == 4"}], "mark": {"type": "rule", "color": "#FF0000", "strokeWidth": 1.2}, "encoding": {"y": {"field": "lo", "type": "quantitative"}, "y2": {"field": "hi"}}},
  {"data": {"name": "pts"}, "transform": [{"filter": "datum.p == 4"}], "mark": {"type": "circle", "color": "#FF0000", "size": 95, "opacity": 1}},
  {"data": {"name": "ci"}, "transform": [{"filter": "datum.p == 4"}], "mark": {"type": "line", "color": "#0000FF", "strokeWidth": 1.3}, "encoding": {"detail": {"field": "s"}}},
  {"data": {"name": "fit"}, "transform": [{"filter": "datum.p == 4"}], "mark": {"type": "line", "color": "#0000FF", "strokeWidth": 2}, "encoding": {}},
  {"data": {"name": "fit"}, "transform": [{"filter": "datum.p == 4"}], "mark": {"type": "circle", "color": "#0000FF", "size": 28, "opacity": 1}}
 ]},
{"width": 378.5, "height": 366,
 "encoding": {"x": {"field": "x", "type": "quantitative", "scale": {"domain": [-3.59, 72.8], "nice": false, "zero": false}, "axis": {"values": [0,20,40,60], "title": "SPEAR index"}},
   "y": {"field": "y", "type": "quantitative", "scale": {"domain": [-1.68, 34.6], "nice": false, "zero": false}, "axis": {"values": [0,10,20,30], "title": null}}},
 "layer": [
  {"data": {"name": "pts"}, "transform": [{"filter": "datum.p == 5"}], "mark": {"type": "rule", "color": "#FF0000", "strokeWidth": 1.2}, "encoding": {"y": {"field": "lo", "type": "quantitative"}, "y2": {"field": "hi"}}},
  {"data": {"name": "pts"}, "transform": [{"filter": "datum.p == 5"}], "mark": {"type": "circle", "color": "#FF0000", "size": 95, "opacity": 1}},
  {"data": {"name": "ci"}, "transform": [{"filter": "datum.p == 5"}], "mark": {"type": "line", "color": "#0000FF", "strokeWidth": 1.3}, "encoding": {"detail": {"field": "s"}}},
  {"data": {"name": "fit"}, "transform": [{"filter": "datum.p == 5"}], "mark": {"type": "line", "color": "#0000FF", "strokeWidth": 2}, "encoding": {}},
  {"data": {"name": "fit"}, "transform": [{"filter": "datum.p == 5"}], "mark": {"type": "circle", "color": "#0000FF", "size": 28, "opacity": 1}}
 ]},
{"width": 376.4, "height": 366,
 "encoding": {"x": {"field": "x", "type": "quantitative", "scale": {"domain": [-0.749, 18.835], "nice": false, "zero": false}, "axis": {"values": [0,5,10,15], "title": "IBCH"}},
   "y": {"field": "y", "type": "quantitative", "scale": {"domain": [-1.68, 34.6], "nice": false, "zero": false}, "axis": {"values": [0,10,20,30], "title": null}}},
 "layer": [
  {"data": {"name": "pts"}, "transform": [{"filter": "datum.p == 6"}], "mark": {"type": "rule", "color": "#FF0000", "strokeWidth": 1.2}, "encoding": {"y": {"field": "lo", "type": "quantitative"}, "y2": {"field": "hi"}}},
  {"data": {"name": "pts"}, "transform": [{"filter": "datum.p == 6"}], "mark": {"type": "circle", "color": "#FF0000", "size": 95, "opacity": 1}},
  {"data": {"name": "ci"}, "transform": [{"filter": "datum.p == 6"}], "mark": {"type": "line", "color": "#0000FF", "strokeWidth": 1.3}, "encoding": {"detail": {"field": "s"}}},
  {"data": {"name": "fit"}, "transform": [{"filter": "datum.p == 6"}], "mark": {"type": "line", "color": "#0000FF", "strokeWidth": 2}, "encoding": {}},
  {"data": {"name": "fit"}, "transform": [{"filter": "datum.p == 6"}], "mark": {"type": "circle", "color": "#0000FF", "size": 28, "opacity": 1}}
 ]}
]
}
